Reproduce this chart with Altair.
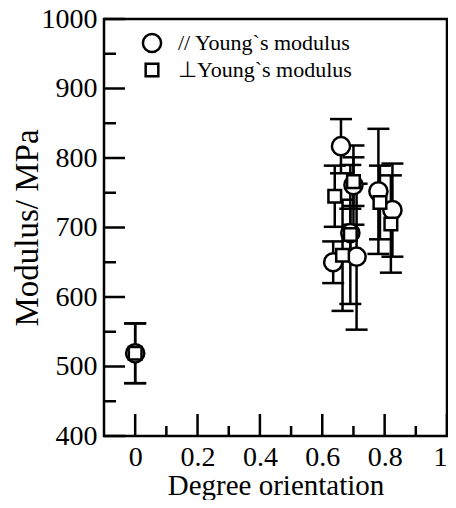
import altair as alt
import pandas as pd

# ---- data ----
series_names = ["// Young`s modulus", "\u22a5Young`s modulus"]
series_shapes = ["circle", "square"]
series_sizes = [330, 160]

par_x = [0.00, 0.660, 0.700, 0.690, 0.635, 0.710, 0.780, 0.825]
par_y = [519, 817, 761, 692, 650, 658, 752, 725]
par_err = [43, 39, 57, 35, 30, 105, 90, 67]

perp_x = [0.00, 0.640, 0.700, 0.690, 0.665, 0.785, 0.820]
perp_y = [519, 745, 766, 690, 660, 736, 705]
perp_err = [43, 44, 35, 100, 80, 53, 70]

x_major = [0.0, 0.2, 0.4, 0.6, 0.8, 1.0]
x_minor = [0.1, 0.3, 0.5, 0.7, 0.9]
y_major = [400, 500, 600, 700, 800, 900, 1000]
y_minor = [450, 550, 650, 750, 850, 950]

rows = []
for xs, ys, es, name in [(par_x, par_y, par_err, series_names[0]),
                         (perp_x, perp_y, perp_err, series_names[1])]:
    for xv, yv, ev in zip(xs, ys, es):
        rows.append({"x": xv, "y": yv, "lo": yv - ev, "hi": yv + ev, "series": name})
df = pd.DataFrame(rows)

yt = pd.DataFrame({"y": y_major + y_minor,
                   "kind": ["major"] * len(y_major) + ["minor"] * len(y_minor)})
xt = pd.DataFrame({"x": x_major + x_minor,
                   "kind": ["major"] * len(x_major) + ["minor"] * len(x_minor)})

FONT = "Liberation Serif"
SW = 2.5
W, H = 343, 417

x_enc = alt.X("x:Q", scale=alt.Scale(domain=[-0.1, 1.0], nice=False, zero=False),
              axis=alt.Axis(values=x_major, format="~g", labelPadding=7,
                            labelFont=FONT, labelFontSize=28, labelColor="black",
                            title="Degree orientation", titleY=58, titleBaseline="alphabetic",
                            titleFont=FONT, titleFontSize=29, titleFontWeight="normal",
                            titleColor="black"))


def y_of(field):
    return alt.Y(field + ":Q", scale=alt.Scale(domain=[400, 1000], nice=False, zero=False),
                 axis=alt.Axis(values=y_major, format="d", labelPadding=7,
                               labelFont=FONT, labelFontSize=28, labelColor="black",
                               title="Modulus/ MPa", titleX=-67, titleBaseline="alphabetic",
                               titleFont=FONT, titleFontSize=33, titleFontWeight="normal",
                               titleColor="black"))


y_enc = y_of("y")

bars = alt.Chart(df).mark_rule(color="black", strokeWidth=SW).encode(
    x=x_enc, y=y_of("lo"), y2="hi:Q")
cap_lo = alt.Chart(df).mark_tick(orient="horizontal", size=22, thickness=SW,
                                 color="black", opacity=1).encode(x=x_enc, y=y_of("lo"))
cap_hi = alt.Chart(df).mark_tick(orient="horizontal", size=22, thickness=SW,
                                 color="black", opacity=1).encode(x=x_enc, y=y_of("hi"))

points = alt.Chart(df).mark_point(filled=True, fill="white", stroke="black",
                                  strokeWidth=SW, opacity=1).encode(
    x=x_enc, y=y_enc,
    shape=alt.Shape("series:N", scale=alt.Scale(domain=series_names, range=series_shapes),
                    legend=None),
    size=alt.Size("series:N", scale=alt.Scale(domain=series_names, range=series_sizes),
                  legend=None))

# inward ticks
ytick_major = alt.Chart(yt[yt.kind == "major"]).mark_rule(color="black", strokeWidth=SW).encode(
    y=y_enc, x=alt.value(0), x2=alt.value(21))
ytick_minor = alt.Chart(yt[yt.kind == "minor"]).mark_rule(color="black", strokeWidth=SW).encode(
    y=y_enc, x=alt.value(0), x2=alt.value(12))
xtick_major = alt.Chart(xt[xt.kind == "major"]).mark_rule(color="black", strokeWidth=SW).encode(
    x=x_enc, y=alt.value(H), y2=alt.value(H - 22))
xtick_minor = alt.Chart(xt[xt.kind == "minor"]).mark_rule(color="black", strokeWidth=SW).encode(
    x=x_enc, y=alt.value(H), y2=alt.value(H - 10))

# legend (drawn inside the plot, top-left)
legend_layers = []
for i, (name, shp, sz) in enumerate(zip(series_names, series_shapes, series_sizes)):
    ldf = pd.DataFrame({"label": [name]})
    row_y = 24 + 27 * i
    legend_layers.append(
        alt.Chart(ldf).mark_point(filled=True, fill="white", stroke="black", strokeWidth=SW,
                                  opacity=1, shape=shp, size=sz).encode(
            x=alt.value(48), y=alt.value(row_y)))
    legend_layers.append(
        alt.Chart(ldf).mark_text(font=FONT, fontSize=22, color="black", align="left",
                                 baseline="middle").encode(
            x=alt.value(74), y=alt.value(row_y), text="label:N"))

chart = alt.layer(ytick_major, ytick_minor, xtick_major, xtick_minor,
                  bars, cap_lo, cap_hi, points, *legend_layers).properties(
    width=W, height=H,
    autosize=alt.AutoSizeParams(type="none"),
    padding={"left": 96, "top": 11, "right": 1, "bottom": 64},
    background="white",
).configure_view(stroke="black", strokeWidth=SW).configure_axis(
    grid=False, domain=False, ticks=False,
)

chart.save("out.html", embed_options={"renderer": "svg", "actions": False})
